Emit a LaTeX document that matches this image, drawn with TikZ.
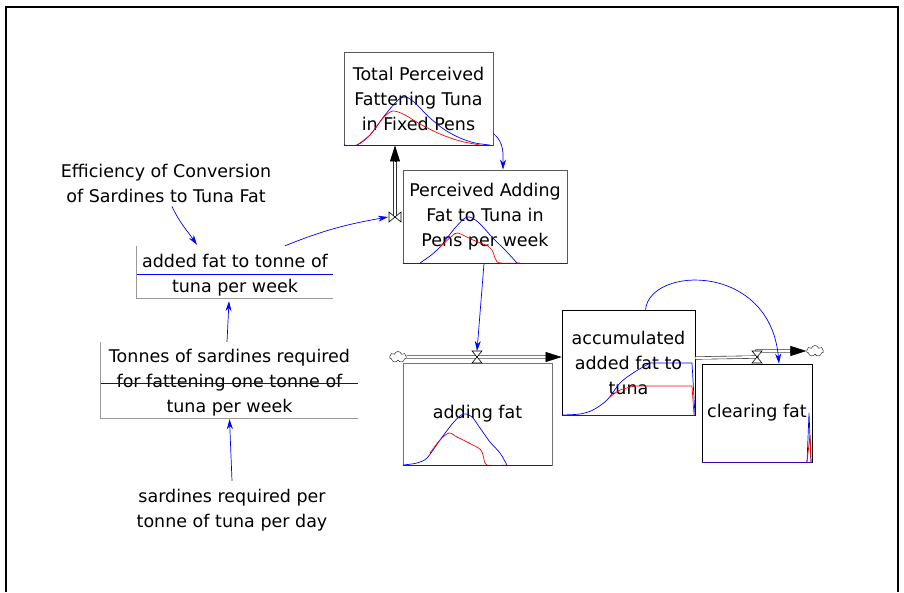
\documentclass[tikz,border=0pt]{standalone}
\usepackage{fontspec}
\setmainfont{DejaVu Sans}
\usetikzlibrary{calc}
\usetikzlibrary{shapes}
\usetikzlibrary{arrows.meta}

\tikzset{
  valveh/.pic={\draw[fill=white, line width=0.6pt] (-5,6) -- (5,6) -- (-5,-6) -- (5,-6) -- cycle;},
  valvev/.pic={\draw[fill=white, line width=0.6pt] (-6,5) -- (6,-5) -- (6,5) -- (-6,-5) -- cycle;}
}

\begin{document}
\begin{tikzpicture}[x=1pt, y=1pt,
  every node/.style={font=\fontsize{17.5}{25}\selectfont, align=center, inner sep=0pt},
  stockbox/.style={draw=black!65, line width=0.8pt},
  auxline/.style={draw=black!40, line width=0.8pt},
  infl/.style={draw=blue, line width=0.7pt, -{Stealth[length=10pt, width=6pt]}},
  pipe/.style={draw=black!80, double=white, double distance=2pt, line width=0.6pt},
  tip/.style={draw=black, line width=0.6pt, -{Triangle[length=16pt, width=10pt]}},
  bluegr/.style={blue, line width=0.7pt},
  redgr/.style={red, line width=0.7pt}]

  \useasboundingbox (0,0) rectangle (904,-592);
  \draw[line width=2.5pt] (6,-592) -- (6,-7) -- (898,-7) -- (898,-592);

  % stocks and flows
  \node[stockbox, minimum width=149pt, minimum height=93pt] (tot) at (418.5,-98.5)
    {Total Perceived\\Fattening Tuna\\in Fixed Pens};
  \node[stockbox, minimum width=164pt, minimum height=93pt] (perc) at (485,-216.5)
    {Perceived Adding\\Fat to Tuna in\\Pens per week};
  \node[stockbox, draw=black!55, minimum width=149pt, minimum height=102pt] (addfat) at (477.5,-414)
    {adding fat};
  \node[stockbox, draw=black, minimum width=133pt, minimum height=105pt] (acc) at (628.5,-362.5)
    {accumulated\\added fat to\\tuna};
  \node[stockbox, draw=black, minimum width=110pt, minimum height=98pt] (clrfat) at (757,-413)
    {clearing fat};

  % auxiliaries
  \node (eff) at (166,-183) {Efficiency of Conversion\\of Sardines to Tuna Fat};
  \node[minimum width=196pt, minimum height=52pt] (aux1) at (235,-275)
    {added fat to tonne of\\tuna per week};
  \draw[auxline] ([yshift=3pt]aux1.north west) -- ([yshift=3pt]aux1.south west) -- ([yshift=3pt]aux1.south east);
  \draw[blue, line width=0.8pt] ([yshift=1pt]aux1.west) -- ([yshift=1pt]aux1.east);
  \node[minimum width=257pt, minimum height=76pt] (aux2) at (229.5,-383)
    {Tonnes of sardines required\\for fattening one tonne of\\tuna per week};
  \draw[auxline] ([yshift=3pt]aux2.north west) -- ([yshift=3pt]aux2.south west) -- ([yshift=3pt]aux2.south east);
  \draw[blue, line width=0.8pt] (aux2.west) -- (aux2.east);
  \node (sardday) at (232,-510) {sardines required per\\tonne of tuna per day};

  % graphs
  \draw[bluegr] plot[smooth, tension=0.5] coordinates {(344,-145) (357,-145) (370,-135) (385,-115)
    (398,-100) (406,-97) (415,-103) (430,-118) (445,-130) (460,-138) (475,-143) (490,-145)};
  \draw[redgr] plot[smooth, tension=0.5] coordinates {(357,-145) (370,-135) (383,-118) (393,-111)
    (405,-115) (420,-124) (440,-134) (460,-141) (480,-145)};
  \draw[bluegr] plot[smooth, tension=0.5] coordinates {(420,-263) (430,-256) (440,-247) (455,-228)
    (467,-217) (478,-222) (492,-237) (507,-252) (517,-263)};
  \draw[redgr] plot[smooth, tension=0.5] coordinates {(440,-247) (452,-236) (458,-233)
    (473,-240) (488,-246) (492,-250) (496,-260) (500,-263) (520,-263)};
  \draw[bluegr] plot[smooth, tension=0.5] coordinates {(403,-465) (417,-463) (427,-458) (440,-440)
    (453,-423) (463,-414) (472,-417) (480,-428) (490,-442) (500,-453) (507,-465)};
  \draw[redgr] plot[smooth, tension=0.5] coordinates {(430,-453) (440,-440) (449,-433) (457,-437)
    (467,-442) (480,-449) (483,-455) (487,-465) (507,-465)};
  \draw[bluegr] plot[smooth, tension=0.5] coordinates {(562,-415) (580,-414) (593,-410) (607,-400)
    (620,-383) (633,-373) (650,-363)} -- (692,-363) -- (695,-415);
  \draw[redgr] plot[smooth, tension=0.5] coordinates {(610,-397) (620,-390) (635,-386)} -- (692,-386) -- (694,-415);
  \draw[bluegr] (807,-462) -- (809,-413) -- (811,-462);
  \draw[redgr] (807,-462) -- (810,-435) -- (811,-462);
  \foreach \b in {tot, perc, addfat, acc, clrfat}
    \draw[blue!70!red, line width=0.8pt] (\b.south west) -- (\b.south east);

  % pipes and valves
  \coordinate (v1) at (395,-217);
  \coordinate (v2) at (477,-357);
  \coordinate (v3) at (757,-357);
  \node[cloud, draw, cloud puffs=7, minimum width=17pt, minimum height=11pt, fill=white] (c1) at (398,-357) {};
  \node[cloud, draw, cloud puffs=7, minimum width=17pt, minimum height=11pt, fill=white] (c2) at (815,-351) {};
  \draw[pipe] (v1) -- ([xshift=-23.5pt, yshift=-15pt]tot.south);
  \draw[tip] ([xshift=-23.5pt, yshift=-16pt]tot.south) -- ([xshift=-23.5pt]tot.south);
  \draw[pipe] (c1.east) -- ([xshift=-15pt, yshift=5.5pt]acc.west);
  \draw[tip] ([xshift=-16pt, yshift=5.5pt]acc.west) -- ([yshift=5.5pt]acc.west);
  \draw[pipe] ([yshift=4.5pt]acc.east) -- (v3) -- ([yshift=6pt]v3) -- ([xshift=-15pt]c2.west);
  \draw[tip] ([xshift=-16pt]c2.west) -- (c2.west);
  \pic at (v1) {valvev};
  \pic at (v2) {valveh};
  \pic at (v3) {valveh};

  % links
  \draw[infl] ([xshift=6pt, yshift=-4pt]eff.south) to[out=-65, in=125] ([xshift=-38pt, yshift=4pt]aux1.north);
  \draw[infl] ([xshift=50pt, yshift=3pt]aux1.north) to[out=22, in=190] ([xshift=-7pt]v1);
  \draw[infl] ([xshift=-2.5pt, yshift=3pt]aux2.north) -- ([xshift=-6pt]aux1.south);
  \draw[infl] ([yshift=8pt]sardday.north) -- ([yshift=2pt]aux2.south);
  \draw[infl] ([yshift=12pt]tot.south east) to[out=-40, in=90] ([xshift=18pt]perc.north);
  \draw[infl] ([xshift=-1pt]perc.south) -- ([yshift=6pt]v2);
  \draw[infl] ([xshift=17pt]acc.north) .. controls (650,-266) and (770,-262) .. ([xshift=22pt]clrfat.north);
\end{tikzpicture}
\end{document}
